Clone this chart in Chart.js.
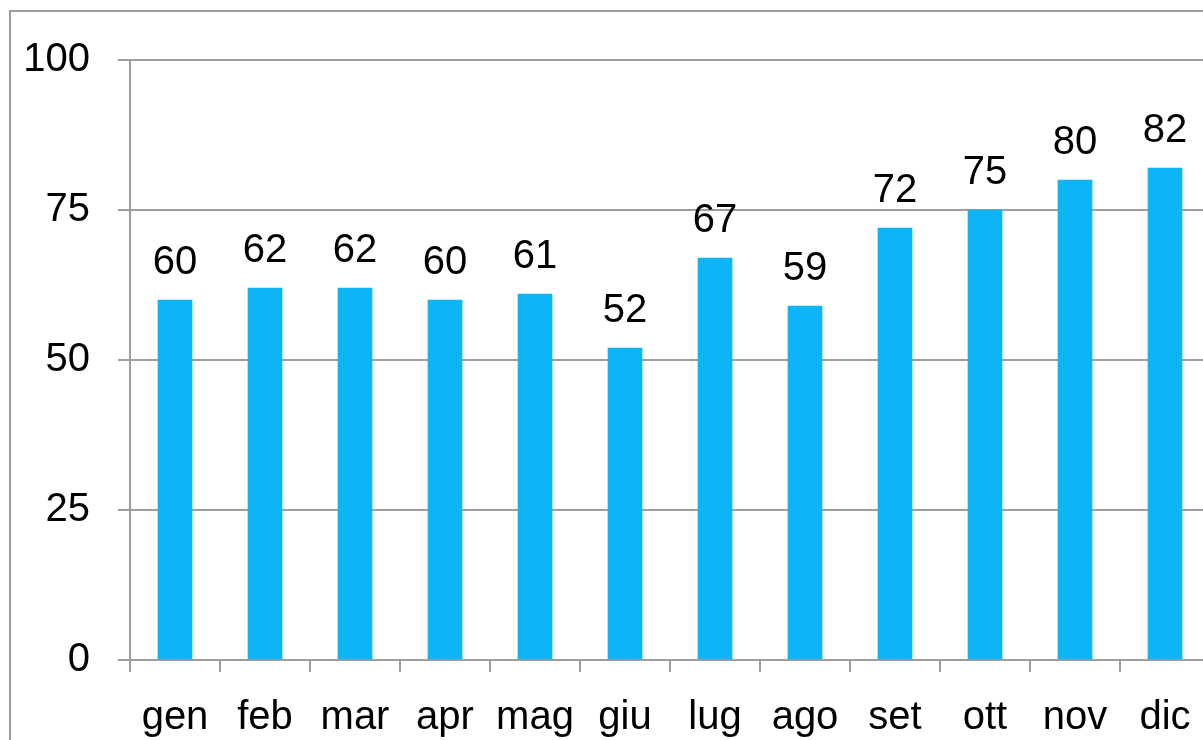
<!DOCTYPE html>
<html>
<head>
<meta charset="utf-8">
<script src="https://cdn.jsdelivr.net/npm/chart.js@4"></script>
<style>
  html, body { margin: 0; padding: 0; background: #fff; overflow: hidden; }
  #frame { position: absolute; left: 9px; top: 10px; width: 1400px; height: 1000px; border: 2px solid #9c9c9c; }
  #wrap { position: absolute; left: 0; top: 0; width: 1240px; height: 800px; }
</style>
</head>
<body>
<div id="frame"></div>
<div id="wrap"><canvas id="barC" width="1240" height="800"></canvas></div>
<script>
var months = ['gen', 'feb', 'mar', 'apr', 'mag', 'giu', 'lug', 'ago', 'set', 'ott', 'nov', 'dic'];
var values = [60, 62, 62, 60, 61, 52, 67, 59, 72, 75, 80, 82];
var yTicks = [0, 25, 50, 75, 100];

var gray = '#9e9e9e';
var font = "'Liberation Sans', Arial, Helvetica, sans-serif";

// value labels above the bars
var valueLabels = {
    id: 'valueLabels',
    afterDatasetsDraw: function(chart) {
        var ctx = chart.ctx;
        var meta = chart.getDatasetMeta(0);
        ctx.save();
        ctx.fillStyle = '#000';
        ctx.font = '40px ' + font;
        ctx.textAlign = 'center';
        ctx.textBaseline = 'alphabetic';
        meta.data.forEach(function(bar, i) {
            ctx.fillText(String(values[i]), bar.x, bar.y - 26);
        });
        ctx.restore();
    }
};

new Chart(document.getElementById('barC'), {
    type: 'bar',
    data: {
        labels: months,
        datasets: [{
            data: values,
            backgroundColor: '#0db4f6',
            borderWidth: 0,
            barThickness: 34
        }]
    },
    options: {
        responsive: false,
        animation: false,
        devicePixelRatio: 1,
        layout: { padding: { left: 0, top: 60, right: 30, bottom: 0 } },
        plugins: {
            legend: { display: false },
            tooltip: { enabled: false }
        },
        scales: {
            x: {
                offset: true,
                grid: {
                    offset: true,
                    drawOnChartArea: false,
                    drawTicks: true,
                    tickLength: 12,
                    color: gray,
                    lineWidth: 2
                },
                border: { display: true, color: gray, width: 2 },
                ticks: {
                    color: '#000',
                    font: { family: font, size: 40 },
                    padding: 22,
                    maxRotation: 0,
                    autoSkip: false
                },
                afterFit: function(scale) { scale.height = 140; }
            },
            y: {
                min: 0,
                max: 100,
                afterBuildTicks: function(scale) {
                    scale.ticks = yTicks.map(function(v) { return { value: v }; });
                },
                grid: {
                    color: gray,
                    lineWidth: 2,
                    tickLength: 12
                },
                border: { display: true, color: gray, width: 2 },
                ticks: {
                    color: '#000',
                    font: { family: font, size: 40 },
                    padding: 28
                },
                afterFit: function(scale) { scale.width = 130; }
            }
        }
    },
    plugins: [valueLabels]
});
</script>
</body>
</html>
